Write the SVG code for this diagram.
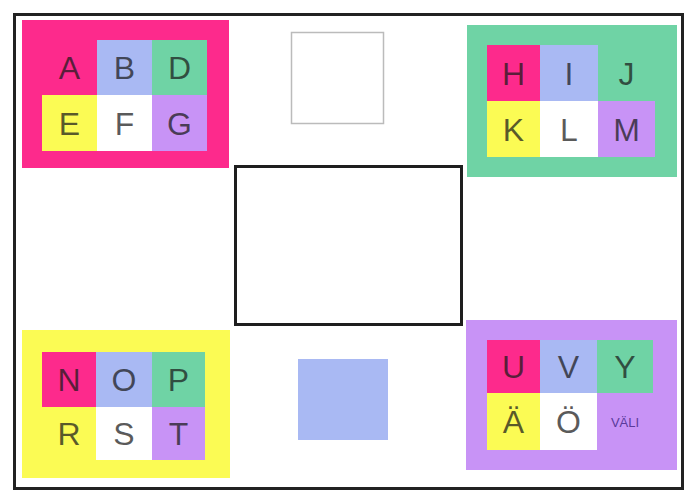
<svg xmlns="http://www.w3.org/2000/svg" width="685" height="496" viewBox="0 0 685 496">
<style>
.t{font-family:"Liberation Sans",Arial,sans-serif;font-size:32px;text-anchor:middle;fill:#1a1a1a;fill-opacity:0.72}
.s{font-family:"Liberation Sans",Arial,sans-serif;font-size:13px;text-anchor:middle;fill:#5a3a9a}
.pk{fill:#fd2a8c}.bl{fill:#a9b9f3}.gr{fill:#6fd3a5}.ye{fill:#fbfb54}.wh{fill:#ffffff}.pu{fill:#c893f6}
</style>
<rect width="685" height="496" fill="#ffffff"/>
<g id="frame"><rect x="14.5" y="14.5" width="668" height="474" fill="none" stroke="#222" stroke-width="3"/></g>
<g id="box-pink">
<rect x="22" y="20" width="207" height="148" class="pk"/>
<rect x="42" y="40" width="55" height="55" class="pk"/>
<rect x="97" y="40" width="55" height="55" class="bl"/>
<rect x="152" y="40" width="55" height="55" class="gr"/>
<rect x="42" y="95" width="55" height="56" class="ye"/>
<rect x="97" y="95" width="55" height="56" class="wh"/>
<rect x="152" y="95" width="55" height="56" class="pu"/>
<text class="t" x="69.5" y="79">A</text><text class="t" x="124.5" y="79">B</text><text class="t" x="179.5" y="79">D</text>
<text class="t" x="69.5" y="135">E</text><text class="t" x="124.5" y="135">F</text><text class="t" x="179.5" y="135">G</text>
</g>
<g id="box-green">
<rect x="467" y="25" width="210" height="152" class="gr"/>
<rect x="487" y="45" width="53" height="56" class="pk"/>
<rect x="540" y="45" width="58" height="56" class="bl"/>
<rect x="598" y="45" width="57" height="56" class="gr"/>
<rect x="487" y="101" width="53" height="56" class="ye"/>
<rect x="540" y="101" width="58" height="56" class="wh"/>
<rect x="598" y="101" width="57" height="56" class="pu"/>
<text class="t" x="513.5" y="85">H</text><text class="t" x="569" y="85">I</text><text class="t" x="626.5" y="85">J</text>
<text class="t" x="513.5" y="141">K</text><text class="t" x="569" y="141">L</text><text class="t" x="626.5" y="141">M</text>
</g>
<g id="box-yellow">
<rect x="22" y="330" width="208" height="148" class="ye"/>
<rect x="42" y="352" width="54" height="55" class="pk"/>
<rect x="96" y="352" width="56" height="55" class="bl"/>
<rect x="152" y="352" width="53" height="55" class="gr"/>
<rect x="42" y="407" width="54" height="53" class="ye"/>
<rect x="96" y="407" width="56" height="53" class="wh"/>
<rect x="152" y="407" width="53" height="53" class="pu"/>
<text class="t" x="69" y="391">N</text><text class="t" x="124" y="391">O</text><text class="t" x="178.5" y="391">P</text>
<text class="t" x="69" y="445">R</text><text class="t" x="124" y="445">S</text><text class="t" x="178.5" y="445">T</text>
</g>
<g id="box-purple">
<rect x="466" y="320" width="211" height="150" class="pu"/>
<rect x="487" y="340" width="53" height="53" class="pk"/>
<rect x="540" y="340" width="57" height="53" class="bl"/>
<rect x="597" y="340" width="56" height="53" class="gr"/>
<rect x="487" y="393" width="53" height="57" class="ye"/>
<rect x="540" y="393" width="57" height="57" class="wh"/>
<rect x="597" y="393" width="56" height="57" class="pu"/>
<text class="t" x="513.5" y="378">U</text><text class="t" x="568.5" y="378">V</text><text class="t" x="625" y="378">Y</text>
<text class="t" x="513.5" y="433">Ä</text><text class="t" x="568.5" y="433">Ö</text><text class="s" x="625" y="427">VÄLI</text>
</g>
<g id="square-empty"><rect x="291.5" y="32.5" width="92" height="91" fill="#fff" stroke="#bbb" stroke-width="1.5"/></g>
<g id="rect-center"><rect x="235.5" y="166.5" width="226" height="158" fill="#fff" stroke="#1e1e1e" stroke-width="3"/></g>
<g id="square-blue"><rect x="298" y="359" width="90" height="81" class="bl"/></g>
<g id="connectors"></g>
</svg>
